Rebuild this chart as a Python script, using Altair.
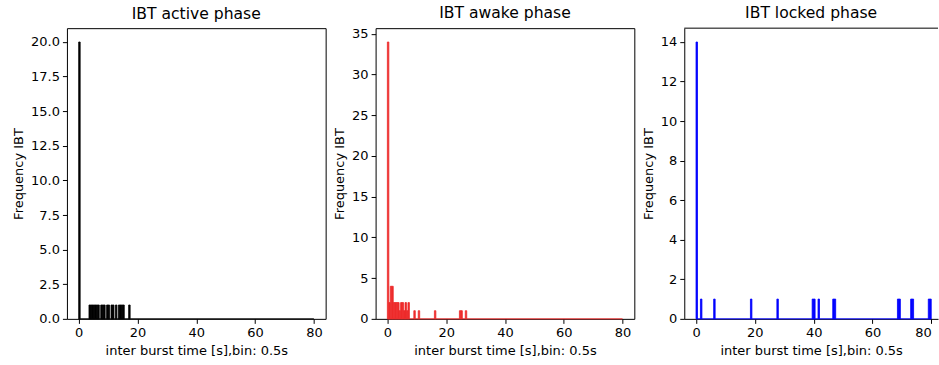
import altair as alt
import pandas as pd

# ---- data (histogram bins of 0.5 s) ----
BIN_WIDTH = 0.5
BIN_MIN = 0
BIN_MAX = 80

active_bins = [0.0, 3.5, 4.0, 4.5, 5.0, 5.5, 6.0, 6.5, 7.5, 8.0, 8.5, 9.5,
               10.0, 11.0, 11.5, 12.5, 13.5, 14.0, 14.5, 15.0, 17.0]
active_counts = [20, 1, 1, 1, 1, 1, 1, 1, 1, 1, 1, 1,
                 1, 1, 1, 1, 1, 1, 1, 1, 1]

awake_bins = [0.0, 0.5, 1.0, 1.5, 2.0, 2.5, 3.0, 3.5, 4.0, 4.5, 5.0, 5.5,
              6.0, 6.5, 7.0, 9.0, 10.5, 16.0, 24.5, 25.0, 26.5]
awake_counts = [34, 2, 4, 4, 2, 2, 2, 2, 1, 2, 2, 1,
                2, 1, 2, 1, 1, 1, 1, 1, 1]

locked_bins = [0.0, 1.5, 6.0, 18.5, 27.5, 39.5, 40.0, 41.5, 46.5, 47.0,
               68.5, 69.0, 73.0, 73.5, 79.0, 79.5]
locked_counts = [14, 1, 1, 1, 1, 1, 1, 1, 1, 1,
                 1, 1, 1, 1, 1, 1]

titles = ["IBT active phase", "IBT awake phase", "IBT locked phase"]
colors = ["#000000", "#ee2c2c", "#0000ff"]
x_ticks = [0, 20, 40, 60, 80]
y_ticks_active = [0, 2.5, 5, 7.5, 10, 12.5, 15, 17.5, 20]
y_ticks_awake = [0, 5, 10, 15, 20, 25, 30, 35]
y_ticks_locked = [0, 2, 4, 6, 8, 10, 12, 14]

X_TITLE = "inter burst time [s],bin: 0.5s"
Y_TITLE = "Frequency IBT"

FONT = "DejaVu Sans"
W, H = 259, 291
W_LAST = 254  # last panel is cut by the figure edge

margin = 0.05 * (BIN_MAX - BIN_MIN)
x_domain = [BIN_MIN - margin, BIN_MAX + margin]
px_per_unit = W / (x_domain[1] - x_domain[0])
x_domain_last = [x_domain[0], x_domain[0] + W_LAST / px_per_unit]


def panel(title, bins, counts, color, y_ticks, y_fmt, width, domain, last=False):
    ymax = max(counts) * 1.05
    df = pd.DataFrame({"start": bins, "count": counts})
    xaxis = alt.Axis(values=x_ticks, title=X_TITLE, format="d",
                     domain=last, labelFlush=8 if last else False,
                     labelOverlap=False)
    yaxis = alt.Axis(values=y_ticks, format=y_fmt, title=Y_TITLE, domain=last,
                     labelOverlap=False)
    xscale = alt.Scale(domain=domain, nice=False, zero=False, padding=0)
    yscale = alt.Scale(domain=[0, ymax], nice=False, padding=0)
    bars = alt.Chart(df).transform_calculate(
        end=f"datum.start + {BIN_WIDTH}"
    ).mark_bar(color=color, stroke=color, strokeWidth=0.8).encode(
        x=alt.X("start:Q", scale=xscale, axis=xaxis, title=X_TITLE),
        x2="end:Q",
        y=alt.Y("count:Q", scale=yscale, axis=yaxis, title=Y_TITLE),
        y2=alt.datum(0),
    )
    base_df = pd.DataFrame({"start": [BIN_MIN], "end": [BIN_MAX], "count": [0]})
    base = alt.Chart(base_df).mark_rule(color=color, strokeWidth=1).encode(
        x=alt.X("start:Q", scale=xscale, axis=xaxis, title=X_TITLE),
        x2="end:Q",
        y=alt.Y("count:Q", scale=yscale, axis=yaxis, title=Y_TITLE),
    )
    layers = [bars, base]
    if last:
        top = alt.Chart(base_df).mark_rule(color="#000000", strokeWidth=1).encode(
            x=alt.value(0), x2=alt.value(width), y=alt.value(0)
        )
        layers.append(top)
    ch = alt.layer(*layers).properties(width=width, height=H, title=title)
    if last:
        ch = ch.properties(view=alt.ViewBackground(stroke="transparent"))
    return ch


p1 = panel(titles[0], active_bins, active_counts, colors[0], y_ticks_active, ".1f", W, x_domain)
p2 = panel(titles[1], awake_bins, awake_counts, colors[1], y_ticks_awake, "d", W, x_domain)
p3 = panel(titles[2], locked_bins, locked_counts, colors[2], y_ticks_locked, "d",
           W_LAST, x_domain_last, last=True)

chart = alt.hconcat(p1, p2, p3, spacing=50, bounds="flush").properties(
    padding={"left": 12, "top": 5, "right": 0, "bottom": 0}
).configure_view(
    stroke="#000000", strokeWidth=1
).configure_axis(
    grid=False, domain=False,
    domainColor="#000000", domainWidth=1,
    labelFont=FONT, titleFont=FONT,
    labelFontSize=13, titleFontSize=13,
    labelColor="#000000", titleColor="#000000",
    titleFontWeight="normal",
    tickColor="#000000", tickSize=4.5, tickWidth=1,
    labelPadding=3, titlePadding=5,
).configure_title(
    font=FONT, fontSize=15.6, fontWeight="normal", color="#000000",
    anchor="middle", offset=6,
)

chart.save("out.html", embed_options={"renderer": "svg", "actions": False})
